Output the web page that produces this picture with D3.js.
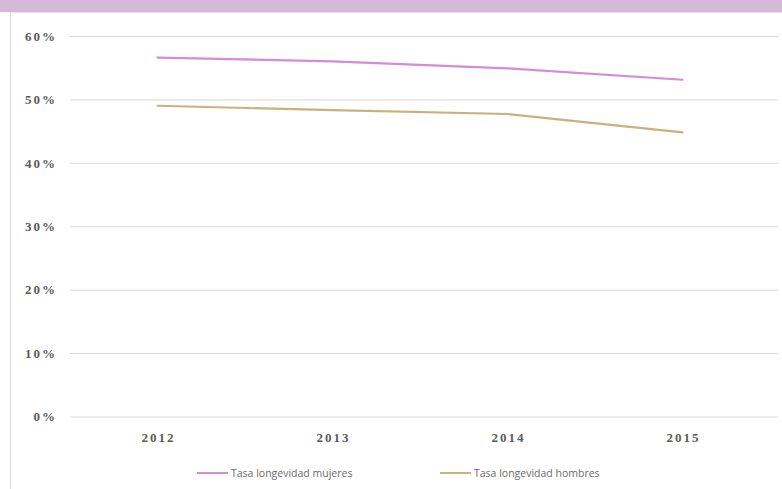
<!DOCTYPE html>
<html><head><meta charset="utf-8">
<script src="https://cdn.jsdelivr.net/npm/d3@7"></script>
<style>body{margin:0;background:#fff;}svg{display:block;}</style>
</head><body><svg id="c" width="782" height="489"></svg>
<script>
const years = ["2012","2013","2014","2015"];
const mujeres = [0.566, 0.560, 0.549, 0.531];
const hombres = [0.490, 0.483, 0.477, 0.448];
const yTicks = [0, 0.1, 0.2, 0.3, 0.4, 0.5, 0.6];
const seriesNames = ["Tasa longevidad mujeres", "Tasa longevidad hombres"];
const colors = ["#d58bd6", "#c8b17e"];

const svg = d3.select("#c");
svg.append("rect").attr("x",0).attr("y",0).attr("width",782).attr("height",12).attr("fill","#d4b9d8");
svg.append("line").attr("x1",10.5).attr("x2",10.5).attr("y1",12).attr("y2",489).attr("stroke","#dcdcdc");
svg.append("line").attr("x1",10).attr("x2",782).attr("y1",12.5).attr("y2",12.5).attr("stroke","#e6e6e6");

const x = d3.scaleBand().domain(years).range([70, 770]);
const y = d3.scaleLinear().domain([0, 0.6]).range([416.5, 36]);

const tickFont = g => g.selectAll("text")
  .attr("font-family","'Liberation Serif', serif").attr("font-weight","bold")
  .attr("font-size","13px").attr("letter-spacing","2px").attr("fill","#5a5a5a");

const grid = svg.append("g").attr("transform","translate(70,0)")
  .call(d3.axisLeft(y).tickValues(yTicks).tickSize(-708).tickFormat(""));
grid.select(".domain").remove();
grid.selectAll("line").attr("stroke","#d9d9d9");

const gy = svg.append("g").attr("transform","translate(70,0)")
  .call(d3.axisLeft(y).tickValues(yTicks).tickFormat(d3.format(".0%")).tickSize(0).tickPadding(13));
gy.select(".domain").remove();
gy.call(tickFont);

const gx = svg.append("g").attr("transform","translate(1,430)")
  .call(d3.axisBottom(x).tickSize(0).tickPadding(3));
gx.select(".domain").remove();
gx.call(tickFont);

const line = d3.line().x((d,i)=>x(years[i])+x.bandwidth()/2).y(d=>y(d));
[mujeres, hombres].forEach((s,k)=>{
  svg.append("path").datum(s).attr("d", line).attr("fill","none")
    .attr("stroke", colors[k]).attr("stroke-width",2.2).attr("stroke-linecap","round");
});

const leg = svg.append("g").attr("transform","translate(0,473)");
const legX = [197, 440];
seriesNames.forEach((n,k)=>{
  leg.append("line").attr("x1",legX[k]).attr("x2",legX[k]+31).attr("y1",0).attr("y2",0).attr("stroke",colors[k]).attr("stroke-width",2);
  leg.append("text").attr("x",legX[k]+34).attr("y",4).text(n)
    .attr("font-family","'Open Sans', sans-serif").attr("font-size","10.5px").attr("fill","#6a6a6a");
});
</script></body></html>
